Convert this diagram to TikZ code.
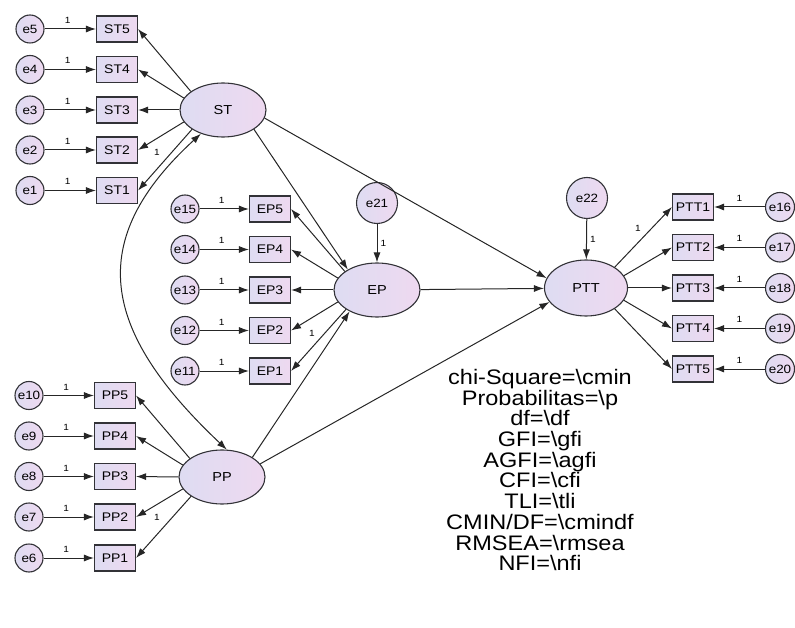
\documentclass[tikz,border=0pt]{standalone}
\usepackage{fontspec}
\setmainfont[FakeStretch=1.12]{Liberation Sans}
\usetikzlibrary{arrows.meta,shapes.geometric}
\definecolor{fillA}{RGB}{222,220,242}
\definecolor{fillB}{RGB}{238,217,240}
\definecolor{linec}{RGB}{50,50,55}
\begin{document}
\begin{tikzpicture}[x=1pt,y=-1pt,
  shade/.style={left color=fillA, right color=fillB, draw=linec, line width=1.1pt},
  lat/.style={ellipse, shade, minimum width=86pt, minimum height=54pt, inner sep=0pt, font=\fontsize{13}{15}\selectfont},
  obs/.style={rectangle, shade, minimum width=41pt, minimum height=26pt, inner sep=0pt, font=\fontsize{12.5}{14}\selectfont},
  err/.style={circle, shade, minimum size=28pt, inner sep=0pt, font=\fontsize{12}{14}\selectfont},
  bigerr/.style={err, minimum size=41pt},
  arr/.style={-{Latex[length=10pt,width=7pt]}, line width=1pt, draw=black!85},
  darr/.style={{Latex[length=10pt,width=7pt]}-{Latex[length=10pt,width=7pt]}, line width=1pt, draw=black!85},
  lab/.style={font=\fontsize{9}{10}\selectfont, inner sep=0pt},
]
\useasboundingbox (0,0) rectangle (795,628);

% latent variables
\node[lat] (ST) at (223,110) {ST};
\node[lat] (EP) at (377,290) {EP};
\node[lat] (PP) at (222,477) {PP};
\node[lat, minimum width=83pt, minimum height=56pt] (PTT) at (586,288) {PTT};
\node[bigerr] (e21) at (377,203) {e21};
\node[bigerr] (e22) at (587,198) {e22};

% ST block
\foreach \i/\y in {1/190.5,2/150,3/110,4/69.5,5/29}{
  \node[obs] (ST\i) at (117,\y) {ST\i};
  \node[err] (e\i) at (30,\y) {e\i};
  \draw[arr] (e\i) -- node[lab, above=5pt, pos=0.45] {1} (ST\i);
}
\foreach \i/\a in {1/212,2/197,3/180,4/163,5/150}
  \draw[arr] (ST.\a) -- (ST\i.east);

% EP block
\foreach \i/\y in {1/371,2/330.5,3/290,4/249.5,5/209}{
  \pgfmathtruncatemacro{\k}{10+\i}
  \node[obs] (EP\i) at (270,\y) {EP\i};
  \node[err] (e\k) at (185,\y) {e\k};
  \draw[arr] (e\k) -- node[lab, above=5pt, pos=0.45] {1} (EP\i);
}
\foreach \i/\a in {1/212,2/197,3/180,4/163,5/150}
  \draw[arr] (EP.\a) -- (EP\i.east);

% PP block
\foreach \i/\y in {1/558,2/517,3/476.5,4/436,5/395.5}{
  \pgfmathtruncatemacro{\k}{5+\i}
  \node[obs] (PP\i) at (115,\y) {PP\i};
  \node[err] (e\k) at (29,\y) {e\k};
  \draw[arr] (e\k) -- node[lab, above=5pt, pos=0.45] {1} (PP\i);
}
\foreach \i/\a in {1/212,2/197,3/180,4/163,5/150}
  \draw[arr] (PP.\a) -- (PP\i.east);

% PTT block
\foreach \i/\y in {1/207,2/247.5,3/288,4/328.5,5/369}{
  \pgfmathtruncatemacro{\k}{15+\i}
  \node[obs] (PTT\i) at (693,\y) {PTT\i};
  \node[err, minimum size=29pt] (e\k) at (780,\y) {e\k};
  \draw[arr] (e\k) -- node[lab, above=5pt, pos=0.5] {1} (PTT\i);
}
\foreach \i/\a in {1/36,2/18,3/0,4/-18,5/-36}
  \draw[arr] (PTT.\a) -- (PTT\i.west);

% fixed loading labels
\node[lab] (wst) at (157,152) {1};
\node[lab] (wep) at (312,333) {1};
\node[lab] (wpp) at (157,517) {1};
\node[lab] (wptt) at (638,228) {1};

% structural paths
\draw[arr] (e21) -- node[lab, right=3pt, pos=0.5] {1} (EP);
\draw[arr] (e22) -- node[lab, right=3pt, pos=0.5] {1} (PTT);
\draw[arr] (ST.-32) -- (EP.145);
\draw[arr] (ST.-11) -- (PTT.166);
\draw[arr] (EP) -- (PTT);
\draw[arr] (PP.33) -- (EP.218);
\draw[arr] (PP.19) -- (PTT.201);
\draw[darr] (ST.227) .. controls (85,240) and (100,330) .. (PP.80);

% fit statistics
\node[font=\fontsize{21}{20.7}\selectfont, align=center, anchor=north, inner sep=0pt] (stats) at (540,369)
 {chi-Square=\textbackslash cmin\\
  Probabilitas=\textbackslash p\\
  df=\textbackslash df\\
  GFI=\textbackslash gfi\\
  AGFI=\textbackslash agfi\\
  CFI=\textbackslash cfi\\
  TLI=\textbackslash tli\\
  CMIN/DF=\textbackslash cmindf\\
  RMSEA=\textbackslash rmsea\\
  NFI=\textbackslash nfi};
\end{tikzpicture}
\end{document}
